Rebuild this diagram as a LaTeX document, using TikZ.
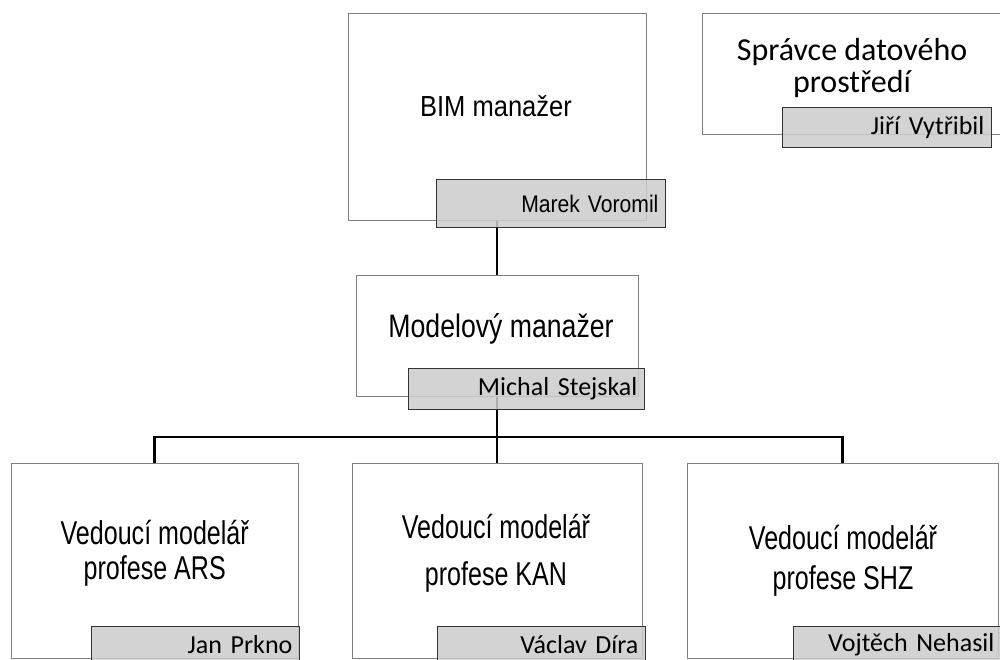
\documentclass[tikz,border=0pt]{standalone}
\usepackage{fontspec}
\newfontfamily\bimfont[FakeStretch=0.88]{Liberation Sans}
\newfontfamily\modelfont[FakeStretch=0.82]{Liberation Sans}
\newfontfamily\rolefont[FakeStretch=0.76]{Liberation Sans}
\newfontfamily\namefont{Carlito}
\usetikzlibrary{backgrounds}

\begin{document}
\begin{tikzpicture}[x=1pt, y=-1pt,
    role/.style={draw=black!50, line width=0.8pt, fill=white, inner sep=0pt},
    caption/.style={inner sep=0pt, align=center, font=\rolefont\fontsize{33}{31}\selectfont},
    who/.style={draw=black!80, line width=1.2pt, fill=black!20, fill opacity=0.85, text opacity=1,
                anchor=north east, minimum height=36pt, inner xsep=7pt, inner ysep=0pt,
                text width=194pt, align=right, font=\namefont\fontsize{26}{28}\selectfont},
    link/.style={line width=2.2pt}]
  \useasboundingbox (0,0) rectangle (1000,659);

  % vedeni
  \node[role, minimum width=298pt, minimum height=207pt] (bim) at (497,116.5) {};
  \node[caption, font=\bimfont\fontsize{29}{31}\selectfont] (bim-t) at (496,106) {BIM manažer};
  \node[who, minimum height=48pt, text width=215pt,
        font=\bimfont\fontsize{24}{26}\selectfont] (marek) at (666,179) {Marek Voromil};

  \node[role, minimum width=300pt, minimum height=121pt] (cde) at (852,73.5) {};
  \node[caption, font=\namefont\fontsize{32}{32}\selectfont] (cde-t) at (852,68) {Správce datového\\prostředí};
  \node[who, minimum height=40pt, text width=195pt] (jiri) at (992,107) {Jiří Vytřibil};

  \node[role, minimum width=282pt, minimum height=121pt] (model) at (497,335.5) {};
  \node[caption, font=\modelfont\fontsize{32.5}{34}\selectfont] (model-t) at (501,329) {Modelový manažer};
  \node[who, minimum height=41pt, text width=222pt] (michal) at (645,368) {Michal Stejskal};

  % profese
  \foreach \id/\cx/\w/\tx/\ty/\gap/\prof/\rx/\who in {
      ars/154.5/287/154.7/553/4pt/ARS/300/Jan Prkno,
      kan/497/290/496/553/16pt/KAN/646/Václav Díra,
      shz/842.5/311/843/561/9pt/SHZ/1002/Vojtěch Nehasil}{
    \node[role, minimum width=\w pt, minimum height=195pt] (\id) at (\cx,560.5) {};
    \node[caption] (\id-t) at (\tx,\ty) {Vedoucí modelář\\[\gap]profese \prof};
    \node[who] (\id-who) at (\rx,626) {\who};
  }

  \coordinate (bus) at (497,437);
  \begin{scope}[on background layer]
    \draw[link] (bim.south) -- (model.north);
    \draw[link] (model.south) -- (kan.north);
    \draw[link] (ars.north) |- (bus) -| (shz.north);
  \end{scope}
\end{tikzpicture}
\end{document}
